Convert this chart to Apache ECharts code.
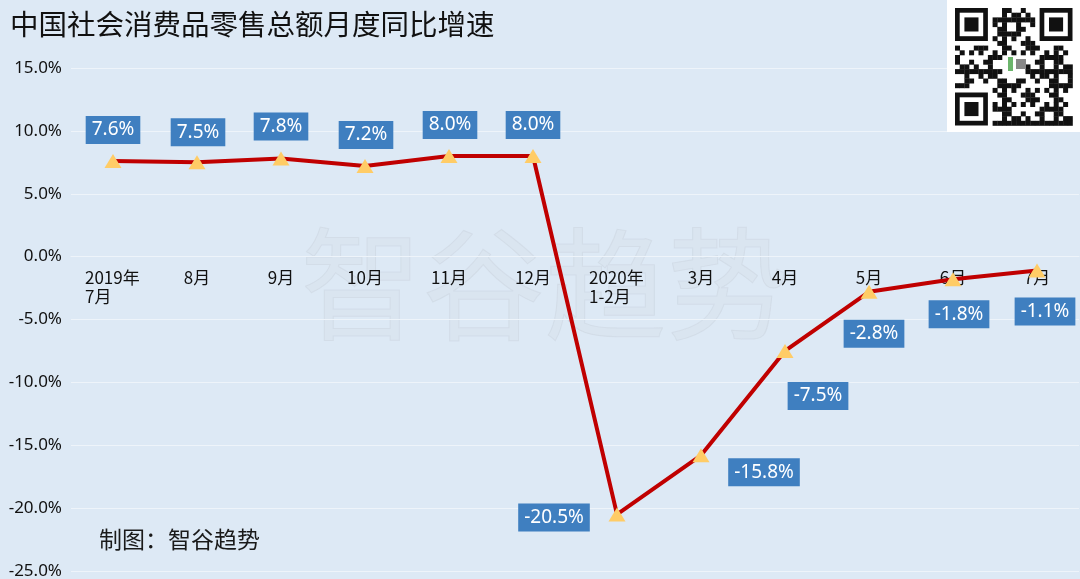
<!DOCTYPE html>
<html><head><meta charset="utf-8">
<script src="https://cdn.jsdelivr.net/npm/echarts@6/dist/echarts.min.js"></script>
<style>html,body{margin:0;padding:0;background:#dde9f5;}#c{width:1080px;height:579px;}</style>
</head><body><div id="c"></div>
<script>
var categories = ['2019年\n7月','8月','9月','10月','11月','12月','2020年\n1-2月','3月','4月','5月','6月','7月'];
var values = [7.6, 7.5, 7.8, 7.2, 8.0, 8.0, -20.5, -15.8, -7.5, -2.8, -1.8, -1.1];
var yTicks = {min: -25, max: 15, interval: 5};
var labelOffsets = [[0,-31],[1,-30],[0,-32],[1,-31],[1,-31],[0,-31],[-63,3],[63,17],[33,45],[5,42],[6,35],[8,41]];

var chart = echarts.init(document.getElementById('c'), null, {renderer:'canvas'});

var gridTop = 68, gridBottom = 8, H = 579;
var plotH = H - gridTop - gridBottom;
var zeroOffset = -plotH * (0 - yTicks.min) / (yTicks.max - yTicks.min);

// decorative QR-like block
var qr = [];
var qx = 955, qy = 8, cell = 4.7, n = 25;
function finder(cx, cy){
  qr.push({type:'rect', z: 12, shape:{x:qx+cx*cell, y:qy+cy*cell, width:7*cell, height:7*cell}, style:{fill:'#111'}});
  qr.push({type:'rect', z: 13, shape:{x:qx+(cx+1)*cell, y:qy+(cy+1)*cell, width:5*cell, height:5*cell}, style:{fill:'#fff'}});
  qr.push({type:'rect', z: 14, shape:{x:qx+(cx+2)*cell, y:qy+(cy+2)*cell, width:3*cell, height:3*cell}, style:{fill:'#111'}});
}
for (var i=0;i<n;i++){ for (var j=0;j<n;j++){
  var inF = (i<8&&j<8)||(i<8&&j>=n-8)||(i>=n-8&&j<8);
  var inC = i>=10&&i<=14&&j>=10&&j<=14;
  if (inF||inC) continue;
  var h = ((i*73 + j*151 + i*j*7) % 11);
  if (h<5) qr.push({type:'rect', z: 12, shape:{x:qx+j*cell, y:qy+i*cell, width:cell+0.3, height:cell+0.3}, style:{fill:'#111'}});
}}
finder(0,0); finder(n-7,0); finder(0,n-7);
qr.push({type:'rect', z: 14, shape:{x:1008, y:57, width:5, height:14}, style:{fill:'#6cb56c'}});
qr.push({type:'rect', z: 14, shape:{x:1016, y:59, width:10, height:10}, style:{fill:'#888'}});

chart.setOption({
  backgroundColor: '#dde9f5',
  animation: false,
  grid: {left: 71, right: 1, top: gridTop, bottom: gridBottom, containLabel: false, outerBoundsMode: 'none'},
  graphic: [
    {type:'text', left: 300, top: 222, z: 0, style:{text:'智谷趋势', font:'122px "Noto Sans CJK SC"', fill:'rgba(200,206,212,0.15)', stroke:'rgba(180,188,196,0.22)', lineWidth: 1}},
    {type:'text', left: 10, top: 10, style:{text:'中国社会消费品零售总额月度同比增速', font:'28.5px "Noto Sans CJK SC"', fill:'#111'}},
    {type:'text', left: 99, top: 528, style:{text:'制图：智谷趋势', font:'23px "Noto Sans CJK SC"', fill:'#1a1a1a'}},
    {type:'rect', shape:{x:947, y:0, width:133, height:132}, style:{fill:'#fff'}, z: 10}
  ].concat(qr),
  xAxis: {
    type: 'category',
    data: categories,
    boundaryGap: true,
    position: 'bottom',
    offset: zeroOffset,
    axisLine: {show: true, onZero: false, lineStyle: {color: '#eef4fa', width: 1}},
    axisTick: {show: false},
    axisLabel: {
      interval: 0, margin: 11, fontSize: 17, color: '#111', fontFamily: '"Noto Sans CJK SC"', lineHeight: 19,
      formatter: function(v){ return v.indexOf('\n')>=0 ? '{m|' + v.split('\n').join('}\n{m|') + '}' : v; },
      rich: {m: {width: 56, align: 'left', fontSize: 17, color: '#111', lineHeight: 19, fontFamily: '"Noto Sans CJK SC"'}}
    },
    splitLine: {show: false}
  },
  yAxis: {
    type: 'value', min: yTicks.min, max: yTicks.max, interval: yTicks.interval,
    axisLine: {show: false}, axisTick: {show: false},
    axisLabel: {margin: 9, fontSize: 17, color: '#111', fontFamily: '"Noto Sans"', formatter: function(v){ return v.toFixed(1) + '%'; }},
    splitLine: {lineStyle: {color: '#eef4fa', width: 1}}
  },
  series: [{
    type: 'line',
    data: values.map(function(v, i){
      return {value: v, label: {offset: labelOffsets[i]}};
    }),
    lineStyle: {color: '#c00000', width: 4},
    symbol: 'triangle', symbolSize: [17, 14],
    itemStyle: {color: '#ffcc66'},
    z: 5,
    label: {
      show: true, position: 'inside',
      formatter: function(p){ return p.value.toFixed(1) + '%'; },
      backgroundColor: '#3f7fc0', color: '#fff', fontSize: 19, padding: [5, 6, 4, 6],
      fontFamily: '"Noto Sans"'
    }
  }]
});
</script></body></html>
